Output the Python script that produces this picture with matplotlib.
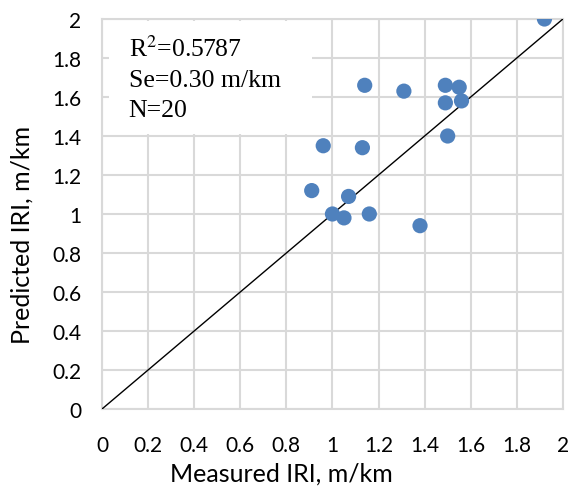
import matplotlib
matplotlib.use("Agg")
import matplotlib.pyplot as plt
import numpy as np

# measured vs predicted IRI (m/km)
measured = [1.92, 1.14, 1.31, 1.49, 1.55, 1.49, 1.56, 1.50, 0.96, 1.13,
            0.91, 1.07, 1.00, 1.05, 1.16, 1.38]
predicted = [2.00, 1.66, 1.63, 1.66, 1.65, 1.57, 1.58, 1.40, 1.35, 1.34,
             1.12, 1.09, 1.00, 0.98, 1.00, 0.94]
ticks = [0, 0.2, 0.4, 0.6, 0.8, 1, 1.2, 1.4, 1.6, 1.8, 2]
tick_labels = ["0", "0.2", "0.4", "0.6", "0.8", "1", "1.2", "1.4", "1.6", "1.8", "2"]
stats_text = "R$^{2}$=0.5787\nSe=0.30 m/km\nN=20"

plt.rcParams['font.family'] = ['Lato', 'DejaVu Sans']
plt.rcParams['mathtext.fontset'] = 'stix'

fig = plt.figure(figsize=(5.68, 4.89), dpi=100)
ax = fig.add_axes([0.1796, 0.1616, 0.8114, 0.7975])

ax.plot([0, 2], [0, 2], color="black", lw=1, zorder=3)
ax.scatter(measured, predicted, s=120, color="#4f81bd", edgecolors="none", zorder=4)

ax.set_xlim(0, 2)
ax.set_ylim(0, 2)
ax.set_xticks(ticks)
ax.set_xticklabels(tick_labels)
ax.set_yticks(ticks)
ax.set_yticklabels(tick_labels)
ax.tick_params(length=0, labelsize=15)
ax.tick_params(axis="x", pad=19)
ax.tick_params(axis="y", pad=15)
ax.grid(True, color="#d9d9d9", lw=1.5)
ax.set_axisbelow(True)
for sp in ax.spines.values():
    sp.set_color("#d9d9d9")
    sp.set_linewidth(1.5)

ax.set_xlabel("Measured IRI, m/km", fontsize=18)
ax.set_ylabel("Predicted IRI, m/km", fontsize=18)
ax.xaxis.set_label_coords(0.39, -0.135)
ax.yaxis.set_label_coords(-0.148, 0.45)

# white box with statistics
ax.add_patch(plt.Rectangle((0.03, 1.41), 0.88, 0.58, facecolor="white",
                           edgecolor="none", zorder=2))
ax.text(0.115, 1.915, stats_text, fontsize=18.5, family=["Liberation Serif"],
        va="top", ha="left", linespacing=1.45, zorder=5)

fig.savefig("out.png", dpi=100)
